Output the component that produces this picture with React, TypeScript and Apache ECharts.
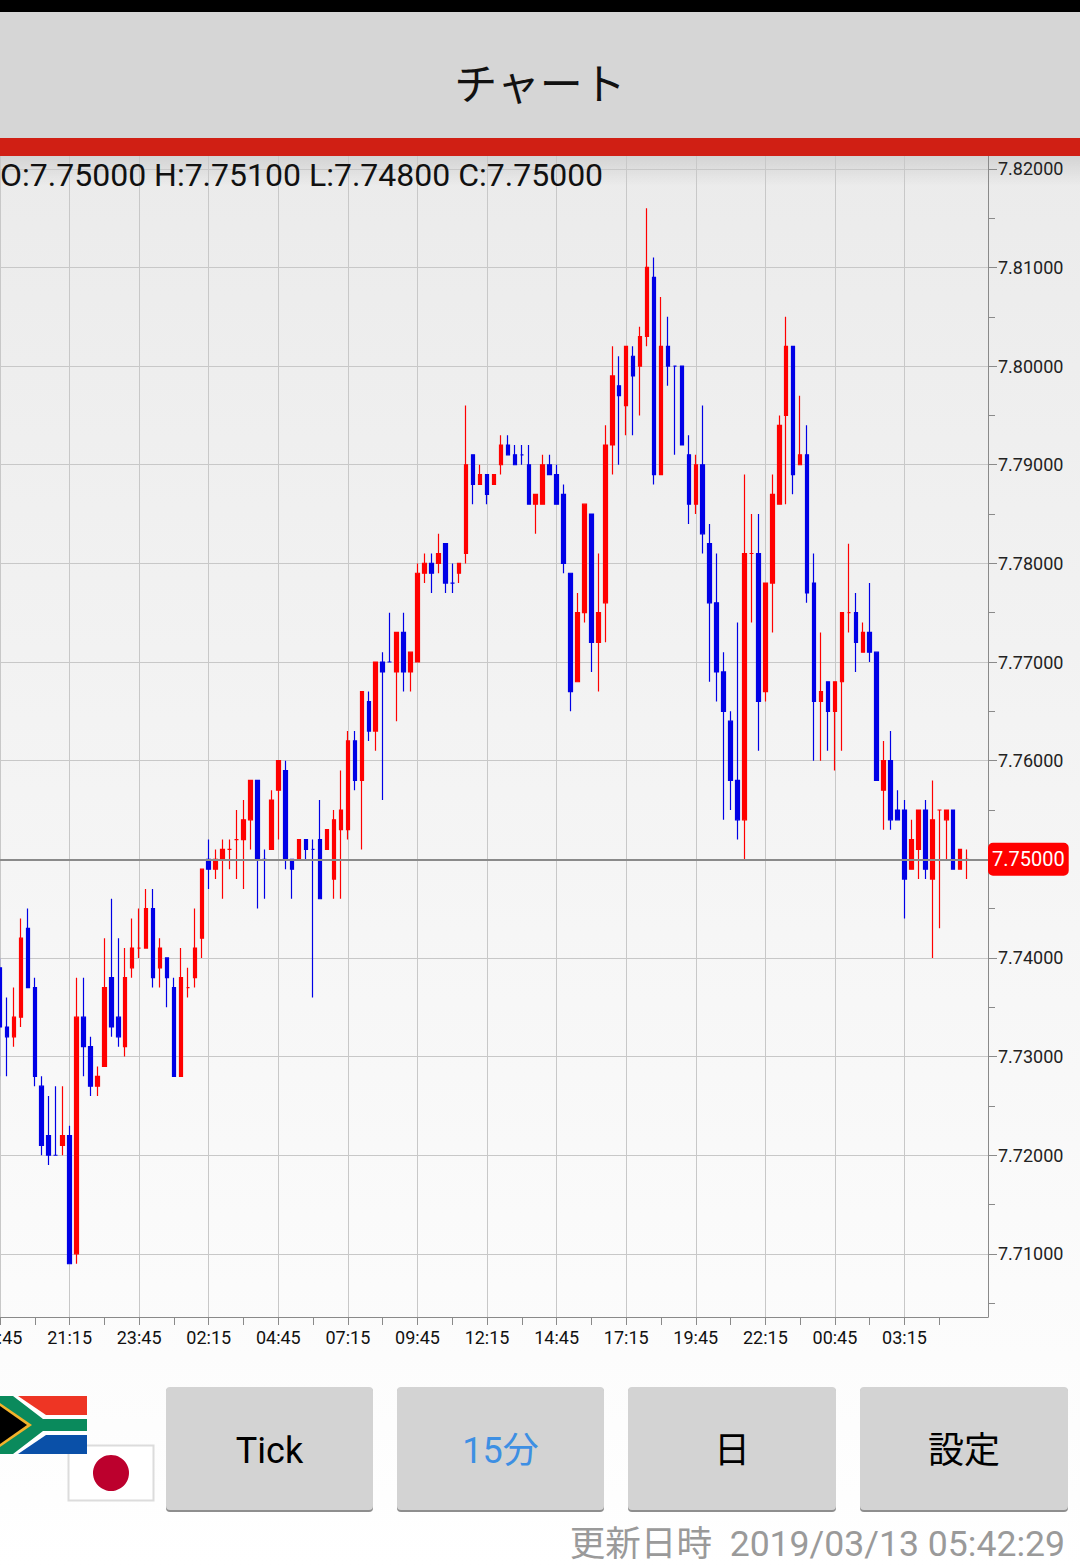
import React, { useEffect, useRef } from "react";
import * as echarts from "echarts";

const PRICE_BASE = 7.75;
const PIP = 0.001;
// price levels, in 0.001 steps away from 7.75000
const opens = [-11,-17,-18,-16,-7,-13,-23,-28,-30,-29,-28,-40,-16,-19,-23,-21,-12,-16,-19,-11,-9,-9,-5,-11,-10,-13,-22,-13,-12,-8,0,-1,0,1,2,2,4,8,0,1,7,9,0,0,2,1,2,1,-2,3,3,12,8,16,13,20,20,19,23,19,20,29,30,30,32,28,29,31,41,38,39,38,40,42,41,41,40,36,36,40,39,37,29,18,25,35,22,26,42,48,46,51,50,53,59,39,52,50,50,41,36,40,32,26,19,14,8,4,31,31,17,28,36,45,52,40,41,28,16,18,15,18,25,25,21,23,21,7,10,5,5,-1,1,5,-2,5,4,5,-1,0];
const closes = [-17,-18,-16,-8,-13,-22,-29,-30,-30,-28,-41,-16,-19,-23,-22,-13,-17,-18,-12,-9,-9,-5,-12,-9,-12,-22,-12,-13,-9,-1,-1,0,1,1,2,4,8,0,0,6,10,0,-1,2,1,1,-4,3,4,5,12,8,17,13,20,19,20,23,19,21,29,30,29,31,28,28,30,40,38,39,37,39,42,41,40,41,36,37,40,39,36,30,17,25,36,22,25,42,49,47,52,49,53,60,39,52,50,50,42,36,40,33,26,19,15,8,4,31,31,16,28,37,44,52,39,41,27,16,17,15,18,25,25,22,23,21,8,10,4,4,-2,2,5,-1,4,5,5,-1,1,0];
const lows = [-22,-22,-19,-17,-13,-23,-30,-31,-30,-30,-41,-41,-22,-24,-24,-21,-18,-19,-20,-12,-10,-9,-13,-13,-15,-22,-22,-14,-13,-10,-3,-2,-4,-1,-2,-3,1,-5,-4,1,2,-1,-4,0,0,-14,-4,1,-4,-4,2,7,1,12,11,6,20,14,17,17,20,28,27,29,27,27,28,30,36,38,36,38,39,41,40,40,36,33,36,39,36,29,15,18,24,19,17,22,39,40,43,43,45,52,38,39,48,41,42,34,35,31,18,16,4,5,2,0,24,11,16,23,36,36,37,40,26,10,10,11,9,11,23,19,21,20,8,3,3,4,-6,-1,-2,-2,-10,-7,0,-1,-1,-2];
const highs = [-10,-14,-13,-6,-5,-12,-22,-24,-23,-23,-27,-12,-12,-18,-21,-8,-4,-8,-9,-6,-5,-3,-3,-8,-10,-12,-9,-11,-5,-1,2,1,2,2,5,6,8,8,1,7,10,10,0,2,2,2,6,3,5,9,13,13,17,17,20,21,25,23,25,21,30,31,31,33,32,30,30,46,41,40,39,39,43,43,42,42,42,37,41,41,40,38,29,27,36,35,31,44,52,51,52,52,54,66,61,57,55,50,50,43,41,46,34,31,21,15,24,39,35,35,28,39,45,55,52,47,44,31,23,18,18,25,32,27,24,28,21,12,13,7,6,4,5,6,8,5,5,5,1,1];
const blueDojis = [8, 38, 45, 56, 65, 75, 97];
const axisTimes = ["18:45","19:00","19:15","19:30","19:45","20:00","20:15","20:30","20:45","21:00"];
const labelTimes = ["18:45","21:15","23:45","02:15","04:45","07:15","09:45","12:15","14:45","17:15","19:45","22:15","00:45","03:15"];
const priceLabels = [7.71,7.72,7.73,7.74,7.76,7.77,7.78,7.79,7.80,7.81,7.82];
const priceGrid = [7.71,7.72,7.73,7.74,7.75,7.76,7.77,7.78,7.79,7.80,7.81,7.82];
const priceHalfTicks = [7.705,7.715,7.725,7.735,7.745,7.755,7.765,7.775,7.785,7.795,7.805,7.815];
const lastPrice = 7.75;
const quoteText = "O:7.75000 H:7.75100 L:7.74800 C:7.75000";
const buttons = ["Tick","15分","日","設定"];

const RED = "#ff0000";
const BLUE = "#0000e6";
const FONT = "Roboto, 'Noto Sans CJK JP', sans-serif";

const price = (m: number) => +(PRICE_BASE + m * PIP).toFixed(5);

export default function App() {
  const ref = useRef<HTMLDivElement>(null);
  useEffect(() => {
    const chart = echarts.init(ref.current!, undefined, { renderer: "svg" });
    const categories = opens.map((_, i) => {
      const slot = Math.floor(i / 10);
      return i % 10 === 0 ? labelTimes[slot] : axisTimes[i % 10];
    }).concat(["", "", ""]);
    const data = opens.map((o, i) => {
      const item: any = { value: [price(o), price(closes[i]), price(lows[i]), price(highs[i])] };
      if (blueDojis.includes(i)) item.itemStyle = { borderColorDoji: BLUE };
      return item;
    });
    const txt = (text: string, x: number, y: number, size: number, fill: string, align = "center", z = 30) => ({
      type: "text", z, silent: true,
      style: { text, x, y, fill, align, verticalAlign: "middle", font: `${size}px ${FONT}` },
    });
    const rect = (x: number, y: number, width: number, height: number, fill: any, z: number, r = 0) => ({
      type: "rect", z, silent: true, shape: { x, y, width, height, r }, style: { fill },
    });
    const poly = (points: number[][], fill: string) => ({
      type: "polygon", z: 31, silent: true, shape: { points }, style: { fill },
    });
    const btnX = [[166, 373], [397, 604], [628, 836], [860, 1068]];
    const btnEls: any[] = [];
    buttons.forEach((b, i) => {
      const [a, c] = btnX[i];
      btnEls.push(rect(a, 1388, c - a, 124, "#8e8e8e", 29, 4));
      btnEls.push(rect(a, 1387, c - a, 123, "#d3d3d3", 30, 4));
      btnEls.push(txt(b, (a + c) / 2, 1451, 36, i === 1 ? "#3d8fe3" : "#000000", "center", 31));
    });
    chart.setOption({
      animation: false,
      grid: { left: 0, right: 92, top: 155, bottom: 250, outerBoundsMode: "none" },
      xAxis: {
        type: "category",
        data: categories,
        boundaryGap: false,
        axisLine: { lineStyle: { color: "#8a8a8a", width: 1 } },
        axisTick: {
          interval: (i: number) => i % 5 === 0 && i < opens.length,
          length: 8,
          lineStyle: { color: "#8a8a8a" },
        },
        axisLabel: { interval: 9, color: "#111", fontSize: 18, fontFamily: FONT, margin: 11 },
        splitLine: {
          show: true,
          interval: (i: number) => i % 10 === 0 && i < opens.length,
          lineStyle: { color: "#c8c8c8", width: 1 },
        },
      },
      yAxis: [
        {
          type: "value", position: "right", min: 7.7036, max: 7.8214, scale: true,
          axisLine: { show: true, onZero: false, lineStyle: { color: "#8a8a8a", width: 1 } },
          axisTick: { show: true, length: 9, customValues: priceGrid, lineStyle: { color: "#8a8a8a" } },
          axisLabel: {
            customValues: priceLabels, color: "#222", fontSize: 18, fontFamily: FONT, margin: 10,
            padding: [7, 0, 0, 0],
            formatter: (v: number) => v.toFixed(5),
          },
          splitLine: { show: true, lineStyle: { color: "#c8c8c8", width: 1 } },
        },
        {
          type: "value", position: "right", min: 7.7036, max: 7.8214, scale: true,
          axisLine: { show: false, onZero: false },
          axisTick: { show: true, length: 7, customValues: priceHalfTicks, lineStyle: { color: "#8a8a8a" } },
          axisLabel: { show: false },
          splitLine: { show: false },
        },
      ],
      series: [
        {
          type: "candlestick",
          yAxisIndex: 0,
          barWidth: 4,
          clip: true,
          itemStyle: {
            color: RED, color0: BLUE, borderColor: RED, borderColor0: BLUE,
            borderColorDoji: RED, borderWidth: 1.2,
          },
          data,
          markLine: {
            silent: true,
            symbol: "none",
            animation: false,
            lineStyle: { color: "#8a8a8a", width: 2, type: "solid" },
            label: {
              show: true, position: "end", distance: 0, color: "#fff", fontSize: 20, fontFamily: FONT,
              backgroundColor: "#ff0000", borderRadius: 5, padding: [7, 4, 6, 4],
              formatter: lastPrice.toFixed(5),
            },
            data: [{ yAxis: lastPrice }],
          },
        },
      ],
      graphic: {
        elements: [
          rect(0, 156, 1080, 1411, new echarts.graphic.LinearGradient(0, 0, 0, 1, [
            { offset: 0, color: "#ebebeb" },
            { offset: 1, color: "#ffffff" },
          ]), -10),
          rect(0, 156, 1080, 30, new echarts.graphic.LinearGradient(0, 0, 0, 1, [
            { offset: 0, color: "rgba(0,0,0,0.10)" },
            { offset: 1, color: "rgba(0,0,0,0)" },
          ]), -9),
          rect(0, 0, 1080, 12, "#000000", 30),
          rect(0, 12, 1080, 126, "#d6d6d6", 30),
          rect(0, 138, 1080, 18, "#d01f14", 30),
          txt("チャート", 540, 85, 43, "#111111"),
          txt(quoteText, 0, 175, 32, "#111111", "left"),
          // South African flag
          rect(0, 1396, 87, 58, "#ffffff", 30),
          poly([[18, 1396], [87, 1396], [87, 1415], [46, 1415]], "#ee3524"),
          poly([[18, 1454], [87, 1454], [87, 1435], [46, 1435]], "#0a50a8"),
          poly([[0, 1396], [13, 1396], [43, 1419], [87, 1419], [87, 1431], [43, 1431], [13, 1454], [0, 1454]], "#0a8a5c"),
          poly([[0, 1403], [32, 1425], [0, 1447]], "#f2b22a"),
          poly([[0, 1406], [27, 1425], [0, 1444]], "#000000"),
          // Japanese flag
          { type: "rect", z: 30, silent: true, shape: { x: 68.5, y: 1445.5, width: 85, height: 55 }, style: { fill: "#ffffff", stroke: "#dcdcdc", lineWidth: 2 } },
          { type: "circle", z: 31, silent: true, shape: { cx: 111, cy: 1473, r: 18 }, style: { fill: "#bc002d" } },
          ...btnEls,
          txt("更新日時  2019/03/13 05:42:29", 1065, 1544, 35.6, "#9a9a9a", "right"),
        ],
      },
    });
    return () => chart.dispose();
  }, []);
  return <div ref={ref} style={{ position: "absolute", left: 0, top: 0, width: 1080, height: 1567 }} />;
}
